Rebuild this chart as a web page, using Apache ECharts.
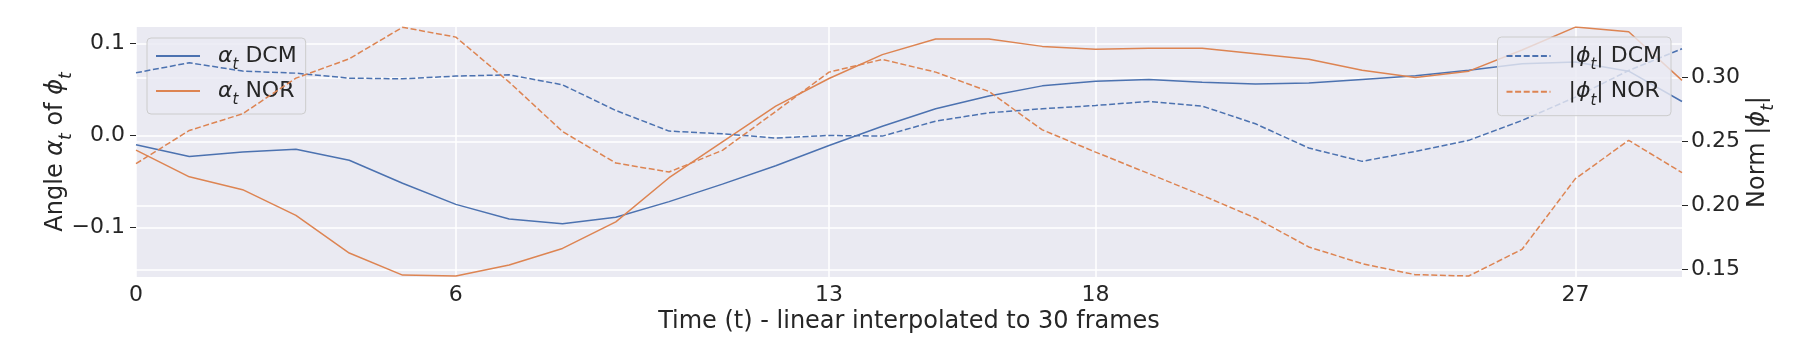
<!DOCTYPE html>
<html>
<head>
<meta charset="utf-8">
<script src="https://cdn.jsdelivr.net/npm/echarts@6/dist/echarts.min.js"></script>
<style>html,body{margin:0;padding:0;background:#fff}#c{width:1800px;height:360px}</style>
</head>
<body>
<div id="c"></div>
<script>
const frames = ['0','1','2','3','4','5','6','7','8','9','10','11','12','13','14','15','16','17','18','19','20','21','22','23','24','25','26','27','28','29'];
const xTickLabels = [0, 6, 13, 18, 27];
const leftTicks = [-0.1, 0.0, 0.1];
const rightTicks = [0.15, 0.20, 0.25, 0.30];

const alphaDCM = [-0.010, -0.023, -0.018, -0.015, -0.027, -0.052, -0.075, -0.091, -0.096, -0.089,
                  -0.072, -0.053, -0.033, -0.011, 0.010, 0.029, 0.043, 0.054, 0.059, 0.061,
                  0.058, 0.056, 0.057, 0.061, 0.065, 0.071, 0.078, 0.080, 0.070, 0.037];
const alphaNOR = [-0.016, -0.045, -0.059, -0.087, -0.128, -0.152, -0.153, -0.141, -0.123, -0.094,
                  -0.046, -0.007, 0.032, 0.062, 0.088, 0.105, 0.105, 0.097, 0.094, 0.095,
                  0.095, 0.089, 0.083, 0.071, 0.063, 0.070, 0.093, 0.118, 0.113, 0.060];
const phiDCM = [0.3035, 0.3113, 0.3048, 0.3032, 0.2993, 0.2988, 0.3009, 0.3019, 0.2941, 0.2741,
                0.2580, 0.2559, 0.2526, 0.2546, 0.2541, 0.2658, 0.2723, 0.2754, 0.2780, 0.2811,
                0.2775, 0.2637, 0.2448, 0.2344, 0.2422, 0.2508, 0.2663, 0.2845, 0.3053, 0.3222];
const phiNOR = [0.2326, 0.2585, 0.2715, 0.2993, 0.3144, 0.3390, 0.3313, 0.2962, 0.2577, 0.2331,
                0.2261, 0.2430, 0.2733, 0.3040, 0.3139, 0.3040, 0.2889, 0.2590, 0.2416, 0.2248,
                0.2079, 0.1902, 0.1676, 0.1546, 0.1460, 0.1450, 0.1658, 0.2209, 0.2508, 0.2256];

const FONT = 'DejaVu Sans';
const TXT = '#262626';
const BLUE = '#4C72B0';
const ORANGE = '#DD8452';

function richSet(main, sub, subPad, subLH) {
  return {
    n: {fontFamily: FONT, fontSize: main, color: TXT, lineHeight: main, verticalAlign: 'top'},
    m: {fontFamily: FONT, fontSize: main, color: TXT, lineHeight: main, fontStyle: 'italic', verticalAlign: 'top'},
    s: {fontFamily: FONT, fontSize: sub, color: TXT, lineHeight: subLH, fontStyle: 'italic', verticalAlign: 'top', padding: [subPad, 0, 0, 0]}
  };
}

const legendText = {
  'α_t DCM': '{m|α}{s|t}{n| DCM}',
  'α_t NOR': '{m|α}{s|t}{n| NOR}',
  '|ϕ_t| DCM': '{n||}{m|ϕ}{s|t}{n|| DCM}',
  '|ϕ_t| NOR': '{n||}{m|ϕ}{s|t}{n|| NOR}'
};

const xTickFn = function (idx) { return xTickLabels.indexOf(idx) >= 0; };

const chart = echarts.init(document.getElementById('c'), null, {renderer: 'canvas'});
chart.setOption({
  animation: false,
  backgroundColor: '#ffffff',
  grid: {
    left: 136, right: 118, top: 27, height: 250,
    show: true, backgroundColor: '#EAEAF2', borderWidth: 0,
    containLabel: false, outerBoundsMode: 'none'
  },
  xAxis: {
    type: 'category',
    data: frames,
    boundaryGap: false,
    axisLine: {show: false},
    axisTick: {show: false},
    axisLabel: {interval: xTickFn, margin: 7, fontFamily: FONT, fontSize: 22, color: TXT},
    splitLine: {show: true, interval: xTickFn, lineStyle: {color: '#ffffff', width: 1.5}},
    name: 'Time (t) - linear interpolated to 30 frames',
    nameLocation: 'middle',
    nameGap: 33,
    nameMoveOverlap: false,
    nameTextStyle: {fontFamily: FONT, fontSize: 24, color: TXT}
  },
  yAxis: [
    {
      type: 'value', position: 'left',
      min: -0.1541, max: 0.1181,
      axisLine: {show: false},
      axisTick: {show: true, length: 6, customValues: leftTicks, lineStyle: {color: TXT, width: 1}},
      axisLabel: {
        customValues: leftTicks, margin: 11, fontFamily: FONT, fontSize: 22, color: TXT,
        formatter: function (v) { return (v < -1e-9 ? '\u2212' : '') + Math.abs(v).toFixed(1); }
      },
      splitLine: {show: true, lineStyle: {color: '#ffffff', width: 1.5}},
      name: '{n|Angle }{m|α}{s|t}{n| of }{m|ϕ}{s|t}',
      nameLocation: 'middle',
      nameGap: 68,
      nameMoveOverlap: false,
      nameTextStyle: {fontFamily: FONT, fontSize: 24, color: TXT, rich: richSet(24, 17, 14, 10)}
    },
    {
      type: 'value', position: 'right',
      min: 0.1442, max: 0.3392,
      axisLine: {show: false},
      axisTick: {show: true, length: 6, customValues: rightTicks, lineStyle: {color: TXT, width: 1}},
      axisLabel: {
        customValues: rightTicks, margin: 9, fontFamily: FONT, fontSize: 22, color: TXT,
        formatter: function (v) { return v.toFixed(2); }
      },
      splitLine: {show: true, lineStyle: {color: '#ffffff', width: 1.5}},
      name: '{n|Norm |}{m|ϕ}{s|t}{n||}',
      nameLocation: 'middle',
      nameGap: 64,
      nameMoveOverlap: false,
      nameTextStyle: {fontFamily: FONT, fontSize: 24, color: TXT, rich: richSet(24, 17, 14, 10)}
    }
  ],
  legend: [
    {
      data: ['α_t DCM', 'α_t NOR'],
      orient: 'vertical', left: 147, top: 38, z: 4,
      itemWidth: 44, itemHeight: 14, itemGap: 7,
      padding: [7, 9, 6, 8],
      itemStyle: {opacity: 0},
      backgroundColor: 'rgba(234,234,242,0.8)', borderColor: '#cccccc', borderWidth: 1, borderRadius: 4,
      formatter: function (name) { return legendText[name]; },
      textStyle: {fontFamily: FONT, fontSize: 22, color: TXT, padding: [0, 0, 0, 13], rich: richSet(22, 15, 13, 9)}
    },
    {
      data: ['|ϕ_t| DCM', '|ϕ_t| NOR'],
      orient: 'vertical', right: 129, top: 37, z: 6,
      itemWidth: 44, itemHeight: 14, itemGap: 7.7,
      padding: [8, 9, 7, 8],
      itemStyle: {opacity: 0},
      backgroundColor: 'rgba(234,234,242,0.8)', borderColor: '#cccccc', borderWidth: 1, borderRadius: 4,
      formatter: function (name) { return legendText[name]; },
      textStyle: {fontFamily: FONT, fontSize: 22, color: TXT, padding: [0, 0, 0, 13], rich: richSet(22, 15, 13, 9)}
    }
  ],
  series: [
    {name: 'α_t DCM', type: 'line', data: alphaDCM, yAxisIndex: 0, symbol: 'none', z: 2,
     lineStyle: {color: BLUE, width: 1.5}, itemStyle: {color: BLUE}},
    {name: 'α_t NOR', type: 'line', data: alphaNOR, yAxisIndex: 0, symbol: 'none', z: 2,
     lineStyle: {color: ORANGE, width: 1.5}, itemStyle: {color: ORANGE}},
    {name: '|ϕ_t| DCM', type: 'line', data: phiDCM, yAxisIndex: 1, symbol: 'none', z: 5,
     lineStyle: {color: BLUE, width: 1.5, type: [6, 2.6]}, itemStyle: {color: BLUE}},
    {name: '|ϕ_t| NOR', type: 'line', data: phiNOR, yAxisIndex: 1, symbol: 'none', z: 5,
     lineStyle: {color: ORANGE, width: 1.5, type: [6, 2.6]}, itemStyle: {color: ORANGE}}
  ]
});
</script>
</body>
</html>
